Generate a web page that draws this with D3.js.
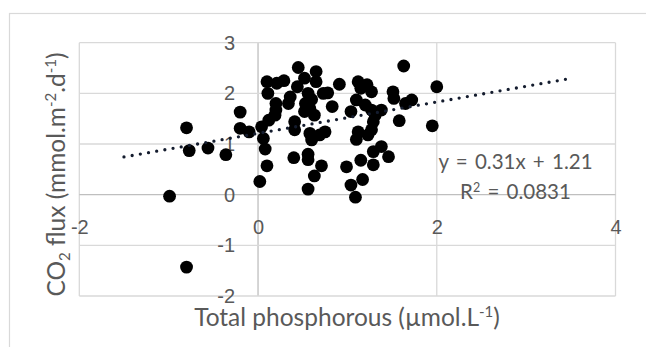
<!DOCTYPE html>
<html>
<head>
<meta charset="utf-8">
<script src="https://cdn.jsdelivr.net/npm/d3@7"></script>
<style>
  body { margin: 0; background: #fff; }
  svg { display: block; font-family: Lato, "Open Sans", sans-serif; }
</style>
</head>
<body>
<div class="ScatterChart"></div>
<script>
// total phosphorous (x) and CO2 flux (y)
const phosphorous = [
  -0.99, -0.80, -0.80, -0.77, -0.56, -0.36, -0.20, -0.20, -0.10,
  0.02, 0.10, 0.08, 0.06, 0.04, 0.12, 0.19, 0.20, 0.20, 0.11, 0.10, 0.21, 0.29,
  0.36, 0.34, 0.44, 0.45, 0.52, 0.65, 0.65, 0.56, 0.53, 0.52, 0.63, 0.41, 0.41,
  0.58, 0.60, 0.75, 0.69, 0.73, 0.78, 0.83, 0.91, 0.40, 0.56, 0.56, 0.71, 0.63,
  0.56, 0.60, 0.58,
  0.99, 1.04, 1.09, 1.17, 1.15, 1.29, 1.29, 1.38, 1.46, 1.10, 1.12, 1.23, 1.27,
  1.29, 1.31, 1.27, 1.20, 1.04, 1.10, 1.12, 1.22, 1.27, 1.15, 1.38,
  1.51, 1.52, 1.58, 1.63, 1.65, 1.72, 1.95, 2.00
];
const co2Flux = [
  -0.03, -1.43, 1.32, 0.87, 0.92, 0.79, 1.63, 1.31, 1.24,
  0.26, 0.57, 0.90, 1.11, 1.34, 1.47, 1.57, 1.67, 1.80, 2.00, 2.23, 2.20, 2.25,
  1.93, 1.80, 2.13, 2.51, 2.30, 2.43, 2.23, 2.00, 1.80, 1.64, 1.57, 1.44, 1.28,
  1.21, 1.08, 1.24, 1.18, 2.00, 2.01, 1.74, 2.18, 0.73, 0.80, 0.69, 0.57, 0.37,
  0.11, 1.88, 1.70,
  0.55, 0.19, -0.05, 0.30, 0.68, 0.59, 0.85, 0.95, 0.75, 1.09, 1.24, 1.18, 1.28,
  1.44, 1.57, 1.67, 1.77, 1.64, 1.87, 2.23, 2.17, 2.03, 2.10, 1.67,
  2.03, 1.90, 1.46, 2.54, 1.80, 1.87, 1.36, 2.13
];
const xTicks = [-2, 0, 2, 4];
const yTicks = [-2, -1, 0, 1, 2, 3];
// linear trendline y = 0.31x + 1.21, drawn from x = -1.5 to 3.5
const trendSlope = 0.31;
const trendIntercept = 1.21;
const trendRange = [-1.5, 3.5];
const equationLabel = "y = 0.31x + 1.21";
const rSquaredValue = "0.0831";

const width = 646, height = 347;
const margin = ({ top: 42.7, right: 30.5, bottom: 51, left: 79.3 });
const textColor = "#595959";
const tickFormat = d => String(d); // plain hyphen minus, no decimals

const data = phosphorous.map((p, i) => ({ x: p, y: co2Flux[i] }));

//x scale
const x = d3.scaleLinear()
  .domain([-2, 4])
  .range([margin.left, width - margin.right]);

//y scale
const y = d3.scaleLinear()
  .domain([-2, 3])
  .range([height - margin.bottom, margin.top]);

const svg = d3.select(".ScatterChart").append("svg")
  .attr("width", width)
  .attr("height", height);

//chart area border
svg.append("rect")
  .attr("x", 9.5).attr("y", 13.5)
  .attr("width", 700).attr("height", 400)
  .attr("fill", "none")
  .attr("stroke", "#d9d9d9")
  .attr("stroke-width", 1.2);

//vertical gridlines
svg.append("g")
  .selectAll("line")
  .data(xTicks)
  .join("line")
  .attr("x1", d => x(d)).attr("x2", d => x(d))
  .attr("y1", y(3)).attr("y2", y(-2))
  .attr("stroke", d => d === 0 ? "#bfbfbf" : "#d9d9d9")
  .attr("stroke-width", 1.3);

//horizontal gridlines
svg.append("g")
  .selectAll("line")
  .data(yTicks)
  .join("line")
  .attr("x1", x(-2)).attr("x2", x(4))
  .attr("y1", d => y(d)).attr("y2", d => y(d))
  .attr("stroke", d => d === 0 ? "#bfbfbf" : "#d9d9d9")
  .attr("stroke-width", 1.3);

//x-axis at y = 0
const xAxis = g => g
  .attr("transform", `translate(0,${y(0)})`)
  .call(d3.axisBottom(x).tickValues(xTicks).tickFormat(tickFormat).tickSize(0).tickPadding(25))
  .call(g => g.select(".domain").remove())
  .call(g => g.selectAll("text")
    .attr("fill", textColor)
    .attr("font-size", 20)
    .attr("font-family", null));

//y-axis at x = 0
const yAxis = g => g
  .attr("transform", `translate(${x(0)},0)`)
  .call(d3.axisLeft(y).tickValues(yTicks).tickFormat(tickFormat).tickSize(0).tickPadding(23))
  .call(g => g.select(".domain").remove())
  .call(g => g.selectAll("text")
    .attr("fill", textColor)
    .attr("font-size", 20)
    .attr("font-family", null));

svg.append("g").attr("class", "x axis").call(xAxis);
svg.append("g").attr("class", "y axis").call(yAxis);

//render points
svg.append("g")
  .selectAll("circle")
  .data(data)
  .join("circle")
  .attr("cx", d => x(d.x))
  .attr("cy", d => y(d.y))
  .attr("r", 6.4)
  .attr("fill", "#000");

//render trendline (round dots)
const line = d3.line()
  .x(d => x(d))
  .y(d => y(trendSlope * d + trendIntercept));

svg.append("path")
  .datum(trendRange)
  .attr("d", line)
  .attr("fill", "none")
  .attr("stroke", "#141c2e")
  .attr("stroke-width", 3.3)
  .attr("stroke-linecap", "round")
  .attr("stroke-dasharray", "0,8.3");

//trendline equation
svg.append("text")
  .text(equationLabel)
  .attr("x", 515.5)
  .attr("y", 169)
  .attr("text-anchor", "middle")
  .attr("font-size", 20.5)
  .attr("word-spacing", 2)
  .attr("fill", textColor);

const r2 = svg.append("text")
  .attr("x", 515.5)
  .attr("y", 199)
  .attr("text-anchor", "middle")
  .attr("font-size", 20.5)
  .attr("word-spacing", 2)
  .attr("fill", textColor);
r2.append("tspan").text("R");
r2.append("tspan").text("2").attr("font-size", 12.5).attr("dy", -7.5);
r2.append("tspan").text(" = " + rSquaredValue).attr("dy", 7.5);

//x-axis title
const xTitle = svg.append("text")
  .attr("x", 347)
  .attr("y", 326)
  .attr("text-anchor", "middle")
  .attr("font-size", 24.5)
  .attr("fill", textColor);
xTitle.append("tspan").text("Total phosphorous (µmol.L");
xTitle.append("tspan").text("-1").attr("font-size", 15).attr("dy", -9.5);
xTitle.append("tspan").text(")").attr("dy", 9.5);

//y-axis title
const yTitle = svg.append("text")
  .attr("transform", `translate(65,174.5) rotate(-90)`)
  .attr("text-anchor", "middle")
  .attr("font-size", 24.5)
  .attr("fill", textColor);
yTitle.append("tspan").text("CO");
yTitle.append("tspan").text("2").attr("font-size", 15).attr("dy", 5);
yTitle.append("tspan").text(" flux (mmol.m").attr("dy", -5);
yTitle.append("tspan").text("-2").attr("font-size", 15).attr("dy", -9.5);
yTitle.append("tspan").text(".d").attr("dy", 9.5);
yTitle.append("tspan").text("-1").attr("font-size", 15).attr("dy", -9.5);
yTitle.append("tspan").text(")").attr("dy", 9.5);
</script>
</body>
</html>
